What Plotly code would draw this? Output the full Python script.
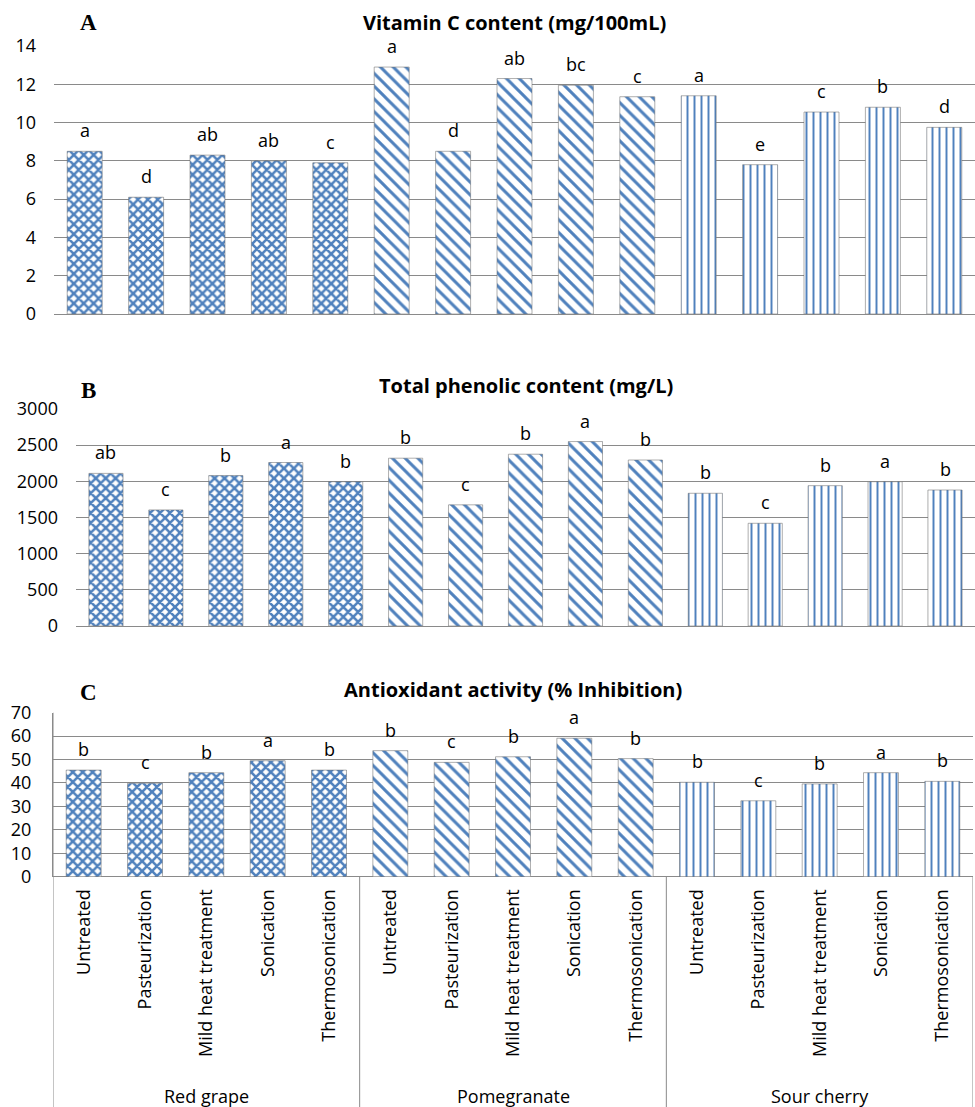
import plotly.graph_objects as go

groups = ["Red grape", "Pomegranate", "Sour cherry"]
treatments = ["Untreated", "Pasteurization", "Mild heat treatment", "Sonication", "Thermosonication"]

vitc = [8.5, 6.1, 8.3, 8.0, 7.9, 12.9, 8.5, 12.3, 11.95, 11.35, 11.4, 7.8, 10.55, 10.8, 9.75]
vitc_letters = ["a", "d", "ab", "ab", "c", "a", "d", "ab", "bc", "c", "a", "e", "c", "b", "d"]
phen = [2110, 1605, 2080, 2260, 1995, 2320, 1675, 2375, 2550, 2295, 1835, 1420, 1940, 1995, 1880]
phen_letters = ["ab", "c", "b", "a", "b", "b", "c", "b", "a", "b", "b", "c", "b", "a", "b"]
anti = [45.5, 39.9, 44.4, 49.5, 45.5, 53.8, 48.8, 51.2, 59.1, 50.4, 40.3, 32.4, 39.6, 44.4, 40.7]
anti_letters = ["b", "c", "b", "a", "b", "b", "c", "b", "a", "b", "b", "c", "b", "a", "b"]

titles = ["Vitamin C content (mg/100mL)", "Total phenolic content (mg/L)", "Antioxidant activity (% Inhibition)"]
panel_tags = ["A", "B", "C"]

BLUE = "#4F81BD"
GRID = "#8a8a8a"
FONT = "Open Sans"

n_t = len(treatments)
xpos = list(range(len(groups) * n_t))
ticktext = treatments * len(groups)

pat_shape_g = ["x", "\\", "|"]
pat_size_g = [7, 9, 7]
pat_sol_g = [0.6, 0.33, 0.28]
pat_shape = [s for s in pat_shape_g for _ in treatments]
pat_size = [s for s in pat_size_g for _ in treatments]
pat_sol = [s for s in pat_sol_g for _ in treatments]

H = 1107.0
W = 975.0
def py(px):
    return 1 - px / H

panels = [
    dict(vals=vitc, letters=vitc_letters, rng=[0, 14], dtick=2,
         xdom=[54 / W, 1.0], ydom=[py(314), py(46)], ty=22, ly=22),
    dict(vals=phen, letters=phen_letters, rng=[0, 3000], dtick=500,
         xdom=[76 / W, 1.0], ydom=[py(626), py(409)], ty=386, ly=391),
    dict(vals=anti, letters=anti_letters, rng=[0, 70], dtick=10,
         xdom=[53 / W, 973 / W], ydom=[py(876.7), py(712.7)], ty=689, ly=692),
]

fig = go.Figure()
annotations = []
shapes = []

for i, p in enumerate(panels):
    k = "" if i == 0 else str(i + 1)
    xa, ya = "x" + k, "y" + k
    fig.add_trace(go.Bar(
        x=xpos, y=p["vals"], xaxis=xa, yaxis=ya,
        marker=dict(color=BLUE,
                    line=dict(color="rgba(110,110,110,0.55)", width=1),
                    pattern=dict(shape=pat_shape, size=pat_size, solidity=pat_sol,
                                 fgcolor=BLUE, bgcolor="white", fillmode="replace")),
        width=0.57, hoverinfo="skip", showlegend=False,
    ))
    last = i == 2
    fig.layout["xaxis" + k] = dict(
        domain=p["xdom"], anchor=ya, range=[-0.5, len(xpos) - 0.5],
        tickvals=xpos if last else [], ticktext=ticktext if last else [],
        showticklabels=last, tickangle=-90, ticks="",
        tickfont=dict(family=FONT, size=18, color="black"),
        ticklabelstandoff=8, automargin=False,
        showgrid=False, zeroline=False, showline=False,
    )
    fig.layout["yaxis" + k] = dict(
        domain=p["ydom"], anchor=xa, range=p["rng"], dtick=p["dtick"],
        showgrid=True, gridcolor=GRID, gridwidth=1,
        zeroline=True, zerolinecolor=GRID, zerolinewidth=1,
        showline=last, linecolor=GRID, linewidth=1,
        ticks="", ticklabelstandoff=17, automargin=False,
        tickfont=dict(family=FONT, size=18, color="black"),
    )
    for xv, yv, lt in zip(xpos, p["vals"], p["letters"]):
        annotations.append(dict(x=xv, y=yv, xref=xa, yref=ya, text=lt, showarrow=False,
                                yanchor="middle", yshift=21,
                                font=dict(family=FONT, size=18, color="black")))
    annotations.append(dict(x=(p["xdom"][0] + p["xdom"][1]) / 2, y=py(p["ty"]), xref="paper", yref="paper",
                            text="<b>" + titles[i] + "</b>", showarrow=False, xanchor="center", yanchor="middle",
                            font=dict(family=FONT, size=20, color="black")))
    annotations.append(dict(x=88 / W, y=py(p["ly"]), xref="paper", yref="paper",
                            text="<b>" + panel_tags[i] + "</b>", showarrow=False, xanchor="center", yanchor="middle",
                            font=dict(family="Liberation Serif", size=23, color="black")))

c_ybot = panels[2]["ydom"][0]
c_ytop = panels[2]["ydom"][1]
for g, name in enumerate(groups):
    annotations.append(dict(x=g * n_t + (n_t - 1) / 2, y=py(1096), xref="x3", yref="paper",
                            text=name, showarrow=False, yanchor="middle",
                            font=dict(family=FONT, size=18, color="black")))
bounds = [g * n_t - 0.5 for g in range(len(groups) + 1)]
for j, b in enumerate(bounds):
    top = c_ytop if j == 0 else c_ybot
    shapes.append(dict(type="line", xref="x3", yref="paper", x0=b, x1=b, y0=0, y1=top,
                       line=dict(color=GRID, width=1)))

fig.update_layout(
    width=975, height=1107, margin=dict(l=0, r=0, t=0, b=0, pad=0, autoexpand=False),
    plot_bgcolor="white", paper_bgcolor="white",
    showlegend=False, annotations=annotations, shapes=shapes,
    font=dict(family=FONT, color="black"),
)

fig.write_html("out.html",
               config={"displayModeBar": False},
               post_script="document.body.style.margin='0';document.body.style.overflow='hidden';")
